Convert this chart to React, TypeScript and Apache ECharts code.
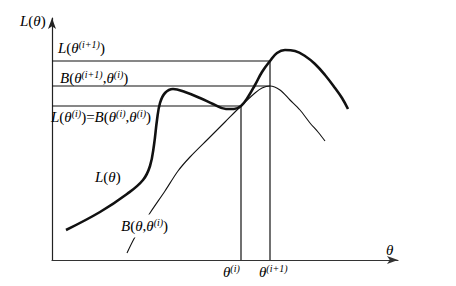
import React, { useEffect, useRef } from "react";
import * as echarts from "echarts";

// Curve L(θ): [θ, L]
const lCurve: [number, number][] = [
  [14, 30], [48, 48], [75, 66], [91, 80], [98, 94], [102, 115], [105, 140], [108, 157],
  [113, 167], [121, 171], [133, 168], [148, 162], [161, 156], [174, 151], [182, 151],
  [189, 154], [196, 163], [203, 175], [210, 188], [218, 199], [225, 207], [233, 210],
  [243, 209], [253, 204], [263, 196], [273, 185], [283, 172], [290, 162], [296, 151],
];
// Curve B(θ, θ^(i)): [θ, B]
const bCurve: [number, number][] = [
  [75, 7], [83, 23], [98, 47], [113, 69], [126, 89], [138, 103], [156, 121], [173, 138],
  [189, 154], [203, 167], [210, 172], [218, 174], [228, 170], [238, 160], [248, 150],
  [258, 137], [266, 128], [273, 119],
];
const thetaI = 189;
const thetaI1 = 218;
const levelLi = 154;
const levelBi1 = 174;
const levelLi1 = 199;
const xMax = 346;
const yMax = 242;

const FONT = '"Liberation Serif", "Times New Roman", serif';
const C = "#111";
const rich = {
  i: { fontFamily: FONT, fontStyle: "italic", fontSize: 15, lineHeight: 17, color: C },
  n: { fontFamily: FONT, fontSize: 15, lineHeight: 17, color: C },
  s: { fontFamily: FONT, fontStyle: "italic", fontSize: 10, lineHeight: 11, verticalAlign: "top", color: C },
};

const tL = "{i|L}{n|(}{i|θ}{n|)}";
const tLi1 = "{i|L}{n|(}{i|θ}{s|(i+1)}{n|)}";
const tBi1 = "{i|B}{n|(}{i|θ}{s|(i+1)}{n|,}{i|θ}{s|(i)}{n|)}";
const tLiBi = "{i|L}{n|(}{i|θ}{s|(i)}{n|)=}{i|B}{n|(}{i|θ}{s|(i)}{n|,}{i|θ}{s|(i)}{n|)}";
const tB = "{i|B}{n|(}{i|θ}{n|,}{i|θ}{s|(i)}{n|)}";
const tTh = "{i|θ}";
const tThI = "{i|θ}{s|(i)}";
const tThI1 = "{i|θ}{s|(i+1)}";

function txt(x: number, y: number, text: string, bg?: boolean) {
  return {
    type: "text",
    x,
    y,
    z: 100,
    style: {
      text,
      rich,
      align: "left",
      verticalAlign: "middle",
      backgroundColor: bg ? "#fff" : undefined,
      padding: bg ? [3, 0] : 0,
    },
  };
}

export default function App() {
  const ref = useRef<HTMLDivElement>(null);
  useEffect(() => {
    if (!ref.current) return;
    const chart = echarts.init(ref.current, null, { renderer: "svg" });
    const guide = { color: C, width: 1.2 };
    chart.setOption({
      animation: false,
      backgroundColor: "#fff",
      grid: { left: 52, top: 18, width: xMax, height: yMax },
      xAxis: {
        type: "value", min: 0, max: xMax,
        axisLine: { lineStyle: { color: "#333", width: 1.2 }, symbol: ["none", "arrow"], symbolSize: [6, 11] },
        axisTick: { show: false }, axisLabel: { show: false }, splitLine: { show: false },
      },
      yAxis: {
        type: "value", min: 0, max: yMax,
        axisLine: { show: true, lineStyle: { color: "#222", width: 1.2 }, symbol: ["none", "arrow"], symbolSize: [6, 11] },
        axisTick: { show: false }, axisLabel: { show: false }, splitLine: { show: false },
      },
      series: [
        {
          type: "line", data: [[0, levelLi1], [thetaI1, levelLi1], [thetaI1, 0]],
          symbol: "none", lineStyle: guide, z: 1,
        },
        {
          type: "line", data: [[0, levelBi1], [thetaI1, levelBi1]],
          symbol: "none", lineStyle: guide, z: 1,
        },
        {
          type: "line", data: [[0, levelLi], [thetaI, levelLi], [thetaI, 0]],
          symbol: "none", lineStyle: guide, z: 1,
        },
        {
          type: "line", data: bCurve, smooth: 0.3, symbol: "none",
          lineStyle: { color: C, width: 1.1 }, z: 2,
        },
        {
          type: "line", data: lCurve, smooth: 0.4, symbol: "none",
          lineStyle: { color: C, width: 2.6 }, z: 3,
        },
      ],
      graphic: [
        txt(20, 21, tL),
        txt(58, 48, tLi1),
        txt(60, 78, tBi1),
        txt(51, 117, tLiBi),
        txt(95, 177, tL),
        txt(121, 226, tB, true),
        txt(386, 250, tTh),
        txt(223, 272, tThI),
        txt(259, 272, tThI1),
      ],
    });
    return () => chart.dispose();
  }, []);
  return (
    <div
      ref={ref}
      style={{ position: "fixed", left: 0, top: 0, width: 456, height: 286, background: "#fff" }}
    />
  );
}
